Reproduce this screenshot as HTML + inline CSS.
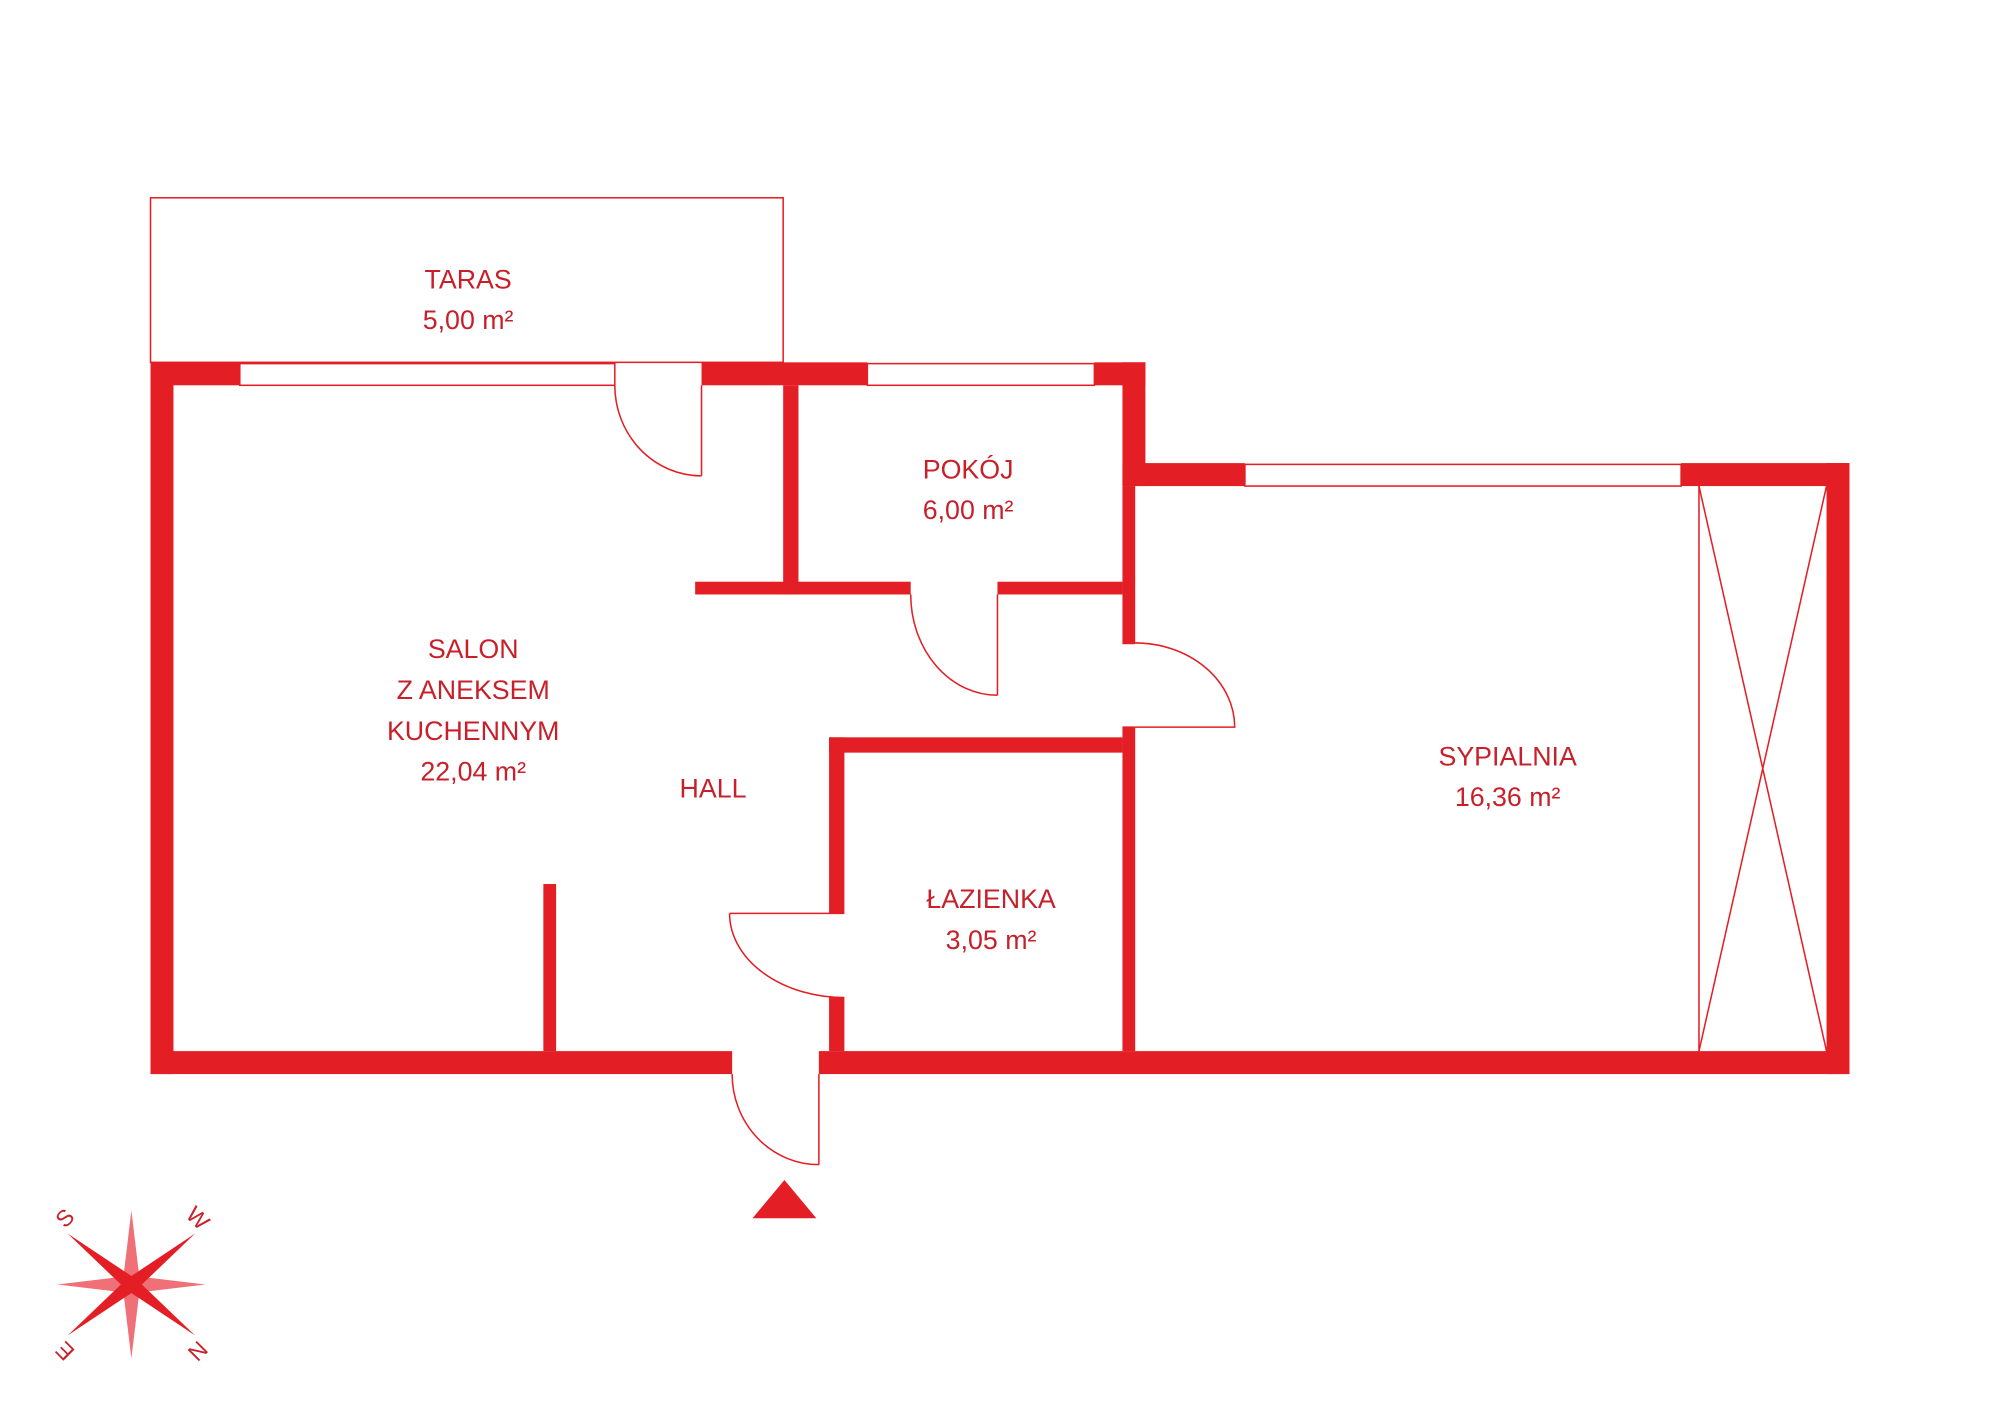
<!DOCTYPE html>
<html><head><meta charset="utf-8"><style>
html,body{margin:0;padding:0;background:#fff;}
svg{display:block;}
text{font-family:"Liberation Sans",sans-serif;fill:#c8202a;font-size:21px;text-anchor:middle;}
</style></head><body>
<svg width="2000" height="1416" viewBox="0 0 1568 1110" xmlns="http://www.w3.org/2000/svg">
<rect width="1568" height="1110" fill="#fff"/>
<g fill="#e31e24" stroke="none">
<!-- outer walls -->
<rect x="118" y="284" width="18" height="558"/>
<rect x="118" y="824" width="456" height="18"/>
<rect x="642" y="824" width="808" height="18"/>
<rect x="118" y="284" width="70" height="18"/>
<rect x="550" y="284" width="130" height="18"/>
<rect x="858" y="284" width="40" height="18"/>
<rect x="880" y="284" width="18" height="97"/>
<rect x="880" y="363" width="96" height="18"/>
<rect x="1318" y="363" width="132" height="18"/>
<rect x="1432" y="363" width="18" height="479"/>
<!-- interior -->
<rect x="614" y="302" width="12" height="164"/>
<rect x="545" y="456" width="169" height="10"/>
<rect x="782" y="456" width="98" height="10"/>
<rect x="880" y="381" width="10" height="124"/>
<rect x="880" y="570" width="10" height="254"/>
<rect x="650" y="578" width="230" height="12"/>
<rect x="650" y="578" width="12" height="138"/>
<rect x="650" y="782" width="12" height="42"/>
<rect x="426" y="693" width="10" height="131"/>
<polygon points="590,955 640,955 615,925"/>
</g>
<g fill="none" stroke="#e31e24" stroke-width="1.2">
<rect x="118" y="155" width="496" height="129"/>
<rect x="188" y="285" width="294" height="17"/>
<rect x="680" y="285" width="178" height="17"/>
<rect x="976" y="364" width="342" height="17"/>
<!-- doors -->
<line x1="550" y1="302" x2="550" y2="373"/>
<path d="M482,302 A68,71 0 0 0 550,373"/>
<line x1="782" y1="466" x2="782" y2="545"/>
<path d="M714,466 A68,79 0 0 0 782,545"/>
<line x1="880" y1="504" x2="890" y2="504"/>
<path d="M890,504 A78,66 0 0 1 968,570 L880,570"/>
<line x1="572" y1="716" x2="662" y2="716"/>
<path d="M572,716 A90,66 0 0 0 662,782 L650,782"/>
<line x1="642" y1="842" x2="642" y2="913"/>
<path d="M574,842 A68,71 0 0 0 642,913"/>
<!-- wardrobe -->
<line x1="1332" y1="381" x2="1332" y2="824"/>
<line x1="1332" y1="381" x2="1432" y2="824"/>
<line x1="1432" y1="381" x2="1332" y2="824"/>
</g>
<text x="367" y="226">TARAS</text>
<text x="367" y="258">5,00 m²</text>
<text x="759" y="375">POKÓJ</text>
<text x="759" y="407">6,00 m²</text>
<text x="371" y="516">SALON</text>
<text x="371" y="548">Z ANEKSEM</text>
<text x="371" y="580">KUCHENNYM</text>
<text x="371" y="612">22,04 m²</text>
<text x="559" y="625">HALL</text>
<text x="777" y="712">ŁAZIENKA</text>
<text x="777" y="744">3,05 m²</text>
<text x="1182" y="600">SYPIALNIA</text>
<text x="1182" y="632">16,36 m²</text>
<!-- compass -->
<g transform="translate(103,1007)">
<g fill="#f07078">
<polygon points="0,-58 6,-8 0,0 -6,-8"/><polygon points="0,58 6,8 0,0 -6,8"/>
<polygon points="-58,0 -8,6 0,0 -8,-6"/><polygon points="58,0 8,6 0,0 8,-6"/>
</g>
<g fill="#e31e24">
<polygon points="-50,-40 -4,4 4,-4"/><polygon points="50,40 -4,4 4,-4"/>
<polygon points="50,-40 -4,-4 4,4"/><polygon points="-50,40 -4,-4 4,4"/>
</g>
<g font-size="18">
<text x="-52" y="-46" transform="rotate(-45 -52 -52)" style="font-size:18px">S</text>
<text x="52" y="-46" transform="rotate(45 52 -52)" style="font-size:18px">W</text>
<text x="-52" y="58" transform="rotate(-135 -52 52)" style="font-size:18px">E</text>
<text x="52" y="58" transform="rotate(135 52 52)" style="font-size:18px">N</text>
</g>
</g>
</svg>
</body></html>
